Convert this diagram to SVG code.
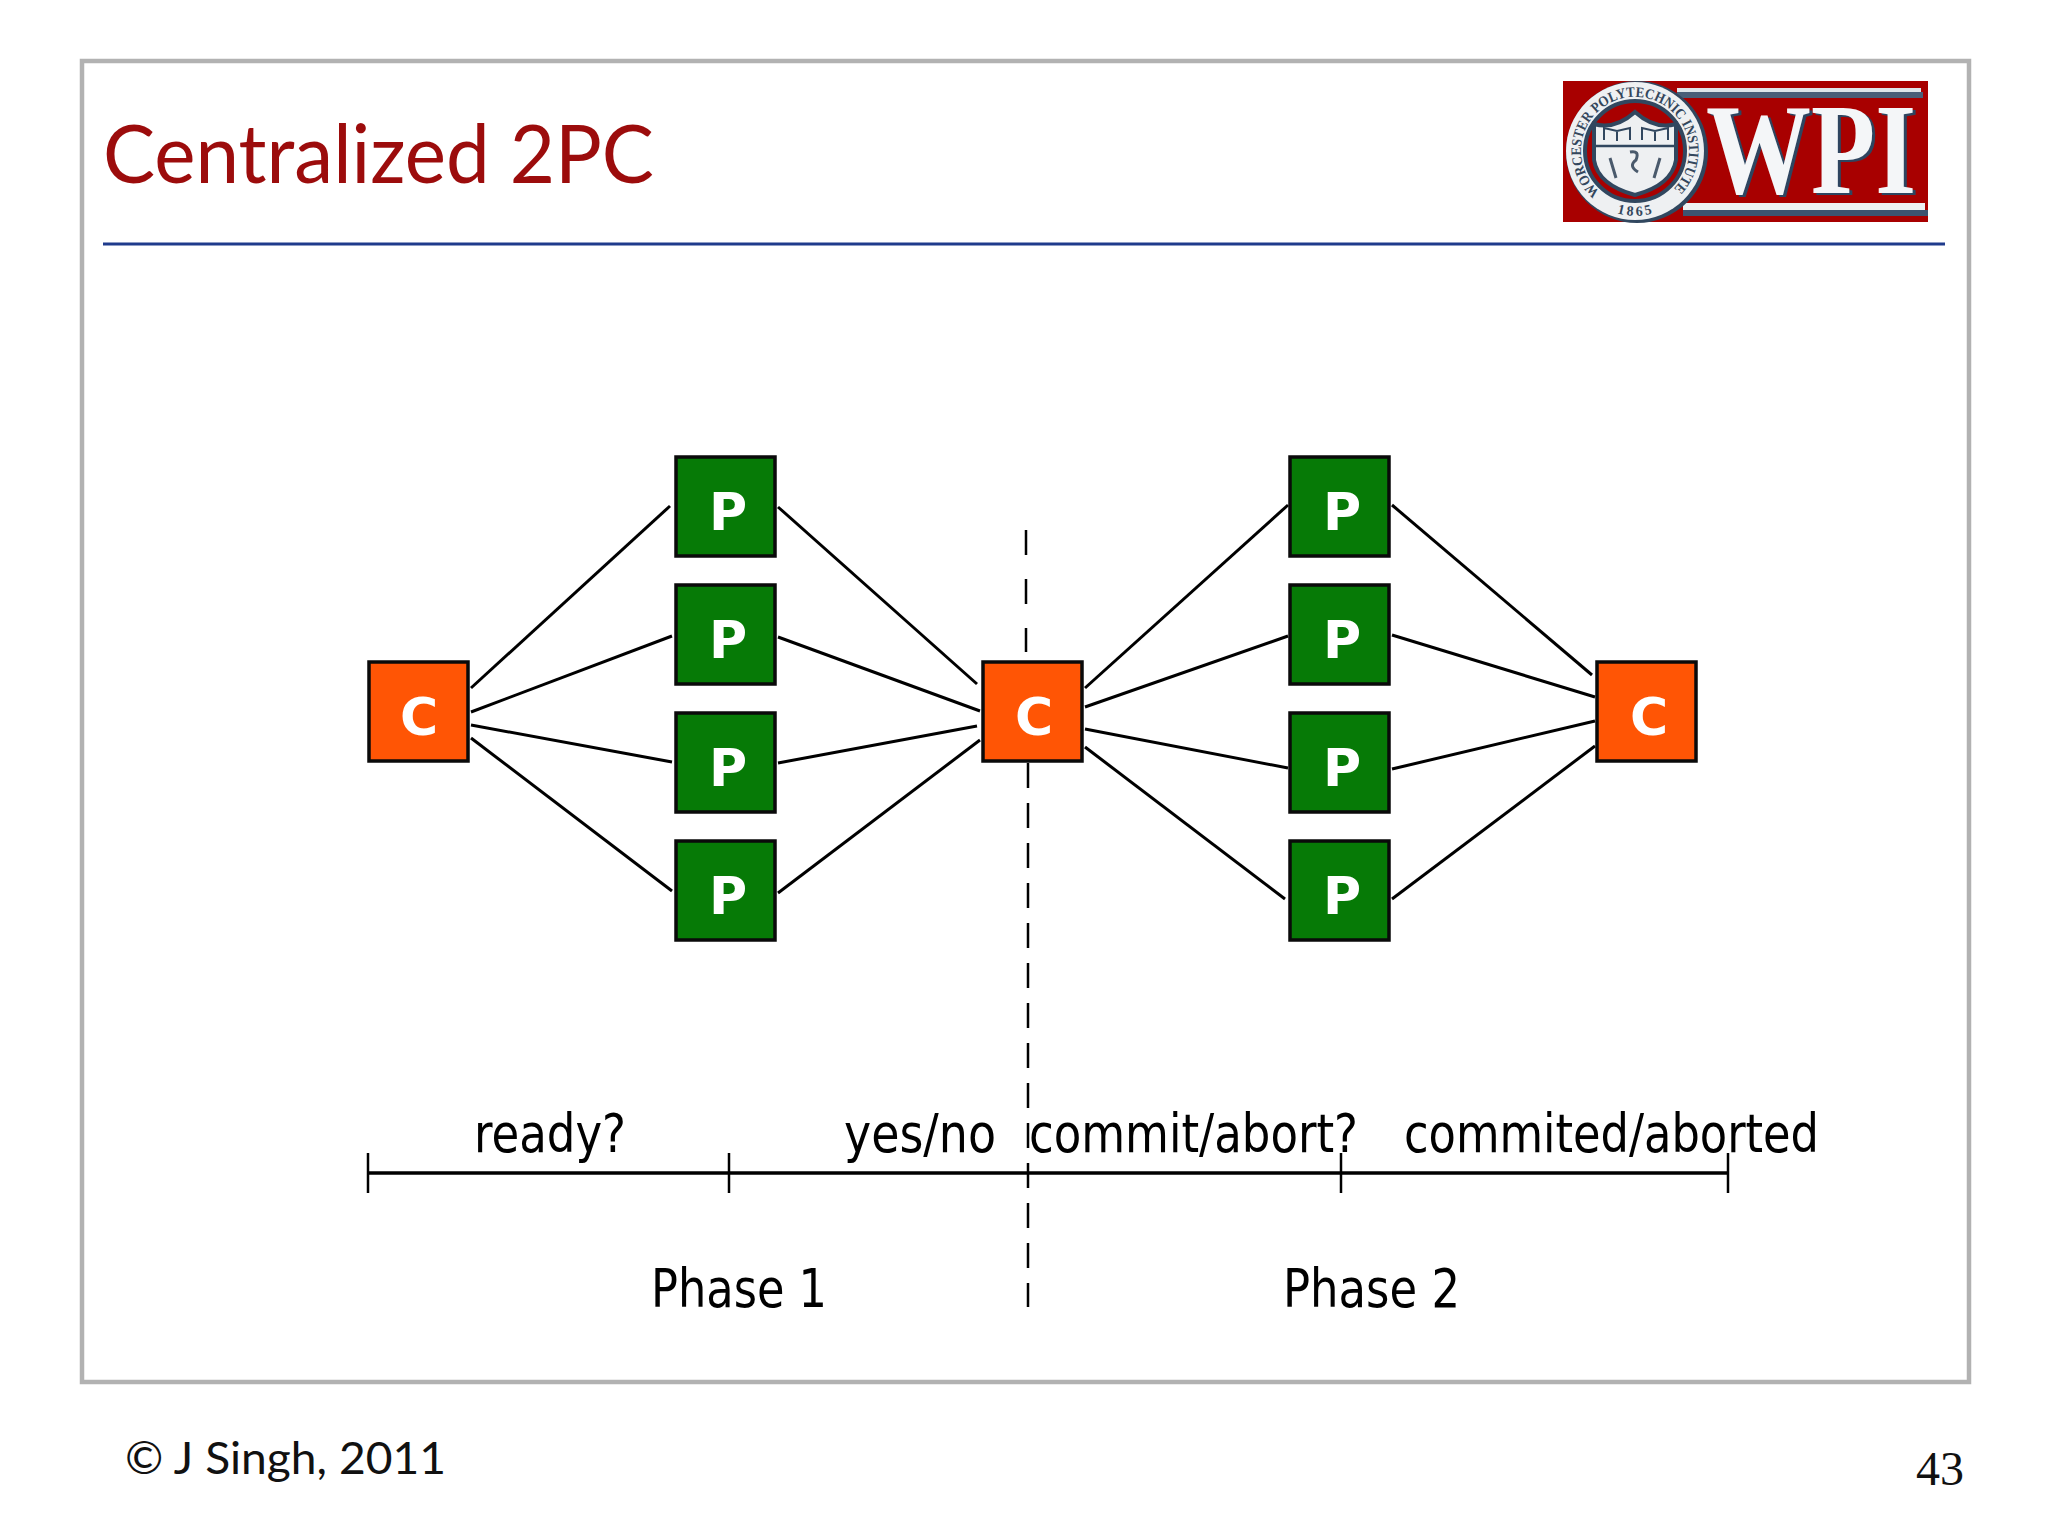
<svg xmlns="http://www.w3.org/2000/svg" width="2048" height="1536" viewBox="0 0 2048 1536">
<style>
.n{stroke:#0a0a0a;stroke-width:3.5}
.p{fill:#067a06}
.c{fill:#ff5505}
.nt{font-family:"DejaVu Sans",sans-serif;font-weight:700;font-size:52px;fill:#fff;text-anchor:middle}
.lb{font-family:"DejaVu Sans",sans-serif;font-stretch:condensed;font-size:54px;fill:#000}
.cn line{stroke:#000;stroke-width:3}
.tk line{stroke:#000;stroke-width:2.5}
.ft{font-family:Lato,sans-serif;fill:#111}
</style>
<defs><path id="sealArc" d="M1600 192 A54 54 0 1 1 1670 192"/><path id="yearArc" d="M1613 212 A65 65 0 0 0 1657 212"/></defs>
<rect width="2048" height="1536" fill="#fff"/>
<rect x="82" y="61" width="1887" height="1321" fill="none" stroke="#b2b2b2" stroke-width="4.5"/>
<text x="103" y="183" font-family="Lato,sans-serif" font-size="82" fill="#9c0c0c" textLength="551" lengthAdjust="spacingAndGlyphs">Centralized 2PC</text>
<line x1="103" y1="244" x2="1945" y2="244" stroke="#1f3b8c" stroke-width="3"/>
<g id="logo">
<rect x="1563" y="81" width="365" height="141" fill="#a80000"/>
<rect x="1677" y="88" width="244" height="4" fill="#dfe6ea"/><rect x="1677" y="92" width="246" height="6" fill="#4a5f78"/>
<rect x="1683" y="203" width="242" height="7" fill="#eef1f3"/><rect x="1683" y="210" width="245" height="6" fill="#3d5470"/>
<text x="1706" y="193" font-family="Liberation Serif,serif" font-weight="700" font-size="130" fill="#f4f6f8" textLength="210" lengthAdjust="spacingAndGlyphs" style="filter:drop-shadow(3px 2px 0 #2e4560)">WPI</text>
<circle cx="1637" cy="152" r="71" fill="#31475f"/>
<circle cx="1635" cy="151" r="69" fill="#eef0f2"/>
<circle cx="1635" cy="151" r="50" fill="#a80000" stroke="#31475f" stroke-width="4"/>
<text font-family="Liberation Serif,serif" font-size="14.5" font-weight="700" fill="#33465c"><textPath href="#sealArc" textLength="258" lengthAdjust="spacingAndGlyphs">WORCESTER POLYTECHNIC INSTITUTE</textPath></text>
<text font-family="Liberation Serif,serif" font-size="14" font-weight="700" fill="#33465c"><textPath href="#yearArc" startOffset="4" textLength="36">1865</textPath></text>
<path d="M1594 124 Q1615 130 1635 112 Q1655 130 1676 124 L1676 160 Q1672 185 1635 195 Q1598 185 1594 160Z" fill="#eef0f2" stroke="#31475f" stroke-width="4"/>
<path d="M1596 146H1674" stroke="#31475f" stroke-width="2.5"/>
<path d="M1604 140V128L1617 131L1630 128V140M1642 140V128L1655 131L1668 128V140M1617 131V141M1655 131V141" fill="none" stroke="#31475f" stroke-width="2"/>
<path d="M1630 152Q1640 150 1636 160Q1628 166 1638 172M1610 158L1616 178M1660 158L1654 178" fill="none" stroke="#4a5a6c" stroke-width="3"/>
</g>
<g id="connectors" class="cn">
<line x1="471" y1="688" x2="670" y2="506"/><line x1="471" y1="712" x2="672" y2="636"/><line x1="471" y1="725" x2="672" y2="762"/><line x1="471" y1="738" x2="672" y2="891"/>
<line x1="778" y1="507" x2="977" y2="684"/><line x1="778" y1="637" x2="980" y2="711"/><line x1="778" y1="763" x2="977" y2="726"/><line x1="778" y1="893" x2="980" y2="740"/>
<line x1="1085" y1="688" x2="1288" y2="505"/><line x1="1085" y1="707" x2="1288" y2="636"/><line x1="1085" y1="729" x2="1288" y2="768"/><line x1="1085" y1="747" x2="1285" y2="899"/>
<line x1="1392" y1="505" x2="1592" y2="675"/><line x1="1392" y1="635" x2="1595" y2="697"/><line x1="1392" y1="769" x2="1595" y2="721"/><line x1="1392" y1="899" x2="1595" y2="746"/>
</g>
<g id="divider" fill="none" stroke="#000" stroke-width="2.5">
<line x1="1026" y1="530" x2="1026" y2="652" stroke-dasharray="25 24"/>
<line x1="1028" y1="763" x2="1028" y2="1307" stroke-dasharray="25 15"/>
</g>
<g id="timeline" class="tk">
<line x1="368" y1="1173" x2="1728" y2="1173" style="stroke-width:3.5"/>
<line x1="368" y1="1153" x2="368" y2="1193"/><line x1="729" y1="1153" x2="729" y2="1193"/><line x1="1341" y1="1153" x2="1341" y2="1193"/><line x1="1728" y1="1153" x2="1728" y2="1193"/>
</g>
<g id="c1"><rect class="n c" x="369" y="662" width="99" height="99"/><text class="nt" x="419" y="735">C</text></g>
<g id="p1"><rect class="n p" x="676" y="457" width="99" height="99"/><text class="nt" x="728" y="530">P</text></g>
<g id="p2"><rect class="n p" x="676" y="585" width="99" height="99"/><text class="nt" x="728" y="658">P</text></g>
<g id="p3"><rect class="n p" x="676" y="713" width="99" height="99"/><text class="nt" x="728" y="786">P</text></g>
<g id="p4"><rect class="n p" x="676" y="841" width="99" height="99"/><text class="nt" x="728" y="914">P</text></g>
<g id="c2"><rect class="n c" x="983" y="662" width="99" height="99"/><text class="nt" x="1034" y="735">C</text></g>
<g id="p5"><rect class="n p" x="1290" y="457" width="99" height="99"/><text class="nt" x="1342" y="530">P</text></g>
<g id="p6"><rect class="n p" x="1290" y="585" width="99" height="99"/><text class="nt" x="1342" y="658">P</text></g>
<g id="p7"><rect class="n p" x="1290" y="713" width="99" height="99"/><text class="nt" x="1342" y="786">P</text></g>
<g id="p8"><rect class="n p" x="1290" y="841" width="99" height="99"/><text class="nt" x="1342" y="914">P</text></g>
<g id="c3"><rect class="n c" x="1597" y="662" width="99" height="99"/><text class="nt" x="1649" y="735">C</text></g>
<g id="labels">
<text class="lb" x="474" y="1152" textLength="152" lengthAdjust="spacingAndGlyphs">ready?</text>
<text class="lb" x="844" y="1152" textLength="152" lengthAdjust="spacingAndGlyphs">yes/no</text>
<text class="lb" x="1029" y="1152" textLength="329" lengthAdjust="spacingAndGlyphs">commit/abort?</text>
<text class="lb" x="1404" y="1152" textLength="415" lengthAdjust="spacingAndGlyphs">commited/aborted</text>
<text class="lb" x="651" y="1307" textLength="176" lengthAdjust="spacingAndGlyphs">Phase 1</text>
<text class="lb" x="1283" y="1307" textLength="177" lengthAdjust="spacingAndGlyphs">Phase 2</text>
</g>
<text class="ft" x="125" y="1474" font-size="44" textLength="321" lengthAdjust="spacingAndGlyphs">© J Singh, 2011</text>
<text x="1916" y="1485" font-family="Liberation Serif,serif" font-size="48" fill="#111">43</text>
</svg>
